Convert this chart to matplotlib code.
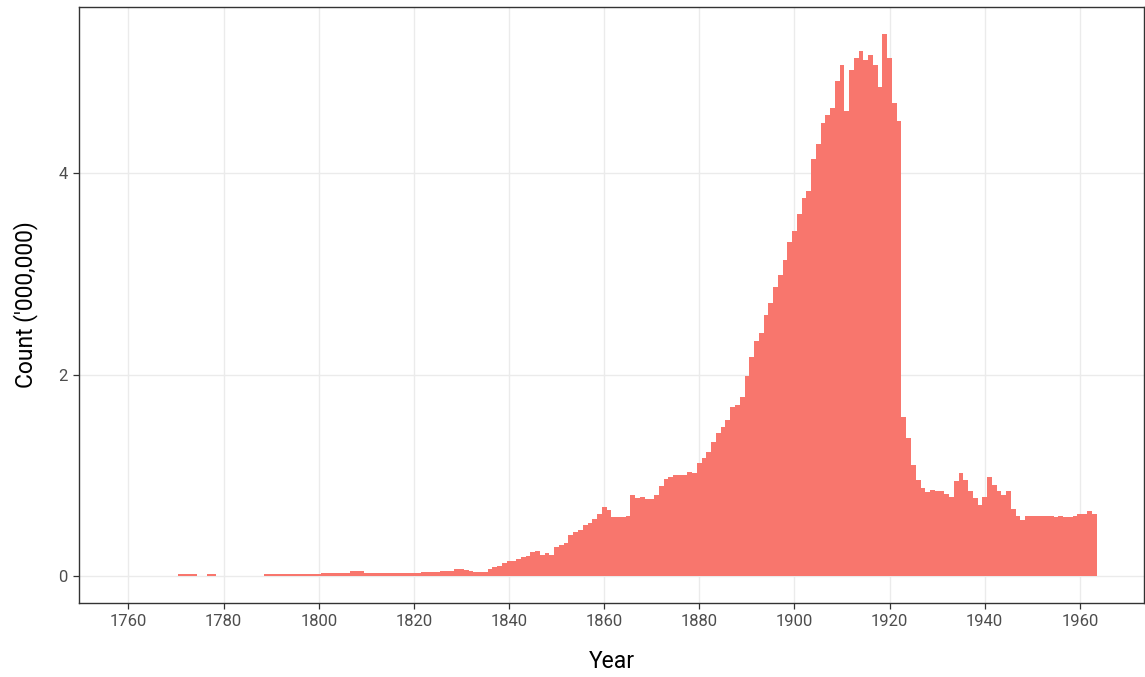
import matplotlib.pyplot as plt

# years with at least one record (gaps left out)
years = (list(range(1771, 1775)) + list(range(1777, 1779)) + list(range(1789, 1964)))

# counts in millions
counts = [
    0.015, 0.015, 0.015, 0.015,                      # 1771-1774
    0.015, 0.015,                                    # 1777-1778
    0.015, 0.015, 0.015, 0.015, 0.015, 0.015,        # 1789-1794
    0.015, 0.015, 0.015, 0.015, 0.015, 0.015,        # 1795-1800
    0.03, 0.03, 0.03, 0.03, 0.03, 0.03,              # 1801-1806
    0.045, 0.045, 0.045,                             # 1807-1809
    0.03, 0.03, 0.03, 0.03, 0.03, 0.03,              # 1810-1815
    0.03, 0.03, 0.03, 0.03, 0.03, 0.03,              # 1816-1821
    0.04, 0.04, 0.04, 0.04,                          # 1822-1825
    0.05, 0.05, 0.05, 0.065, 0.065,                  # 1826-1830
    0.055, 0.053, 0.036, 0.036, 0.036,               # 1831-1835
    0.07, 0.086, 0.10, 0.125, 0.145,                 # 1836-1840
    0.145, 0.17, 0.185, 0.20, 0.235,                 # 1841-1845
    0.245, 0.21, 0.23, 0.21, 0.285,                  # 1846-1850
    0.31, 0.325, 0.41, 0.44, 0.46,                   # 1851-1855
    0.51, 0.53, 0.565, 0.62, 0.68,                   # 1856-1860
    0.66, 0.59, 0.59, 0.59, 0.60,                    # 1861-1865
    0.80, 0.77, 0.785, 0.76, 0.76,                   # 1866-1870
    0.80, 0.89, 0.965, 0.98, 1.005,                  # 1871-1875
    1.005, 1.005, 1.035, 1.02, 1.12,                 # 1876-1880
    1.175, 1.23, 1.33, 1.42, 1.475,                  # 1881-1885
    1.55, 1.68, 1.70, 1.78, 1.99,                    # 1886-1890
    2.175, 2.33, 2.41, 2.59, 2.71,                   # 1891-1895
    2.87, 2.99, 3.14, 3.32, 3.42,                    # 1896-1900
    3.59, 3.75, 3.82, 4.14, 4.29,                    # 1901-1905
    4.50, 4.58, 4.65, 4.91, 5.07,                    # 1906-1910
    4.62, 5.02, 5.14, 5.21, 5.12,                    # 1911-1915
    5.17, 5.07, 4.85, 5.38, 5.14,                    # 1916-1920
    4.69, 4.52, 1.575, 1.37, 1.10,                   # 1921-1925
    0.95, 0.87, 0.83, 0.855, 0.84,                   # 1926-1930
    0.84, 0.815, 0.785, 0.94, 1.02,                  # 1931-1935
    0.95, 0.84, 0.77, 0.70, 0.785,                   # 1936-1940
    0.98, 0.905, 0.84, 0.80, 0.84,                   # 1941-1945
    0.67, 0.60, 0.56, 0.60, 0.60,                    # 1946-1950
    0.60, 0.60, 0.60, 0.60, 0.59,                    # 1951-1955
    0.60, 0.59, 0.59, 0.60, 0.62,                    # 1956-1960
    0.62, 0.645, 0.62,                               # 1961-1963
]

x_ticks = [1760, 1780, 1800, 1820, 1840, 1860, 1880, 1900, 1920, 1940, 1960]
y_ticks = [0, 2, 4]

plt.rcParams['font.family'] = ['Roboto', 'DejaVu Sans']

fig = plt.figure(figsize=(11.45, 6.77), dpi=100)
ax = fig.add_axes([0.069, 0.1093, 0.9302, 0.8804])

ax.bar(years, counts, width=1.0, color="#F8766D", linewidth=0, zorder=2)

ax.set_xlim(1749.6, 1973.5)
ax.set_ylim(-0.268, 5.648)
ax.set_xticks(x_ticks)
ax.set_yticks(y_ticks)

# theme_bw look
ax.grid(True, color="#EBEBEB", linewidth=1.0, zorder=0)
ax.set_axisbelow(True)
for s in ax.spines.values():
    s.set_color("#333333")
    s.set_linewidth(1.0)
ax.tick_params(axis="both", colors="#333333", labelcolor="#4D4D4D",
               labelsize=12, length=4, width=0.9, pad=4)

ax.set_xlabel("Year", fontsize=16.5, color="black", labelpad=15)
ax.set_ylabel("Count ('000,000)", fontsize=16.5, color="black", labelpad=15)

fig.savefig("out.png", dpi=100)
